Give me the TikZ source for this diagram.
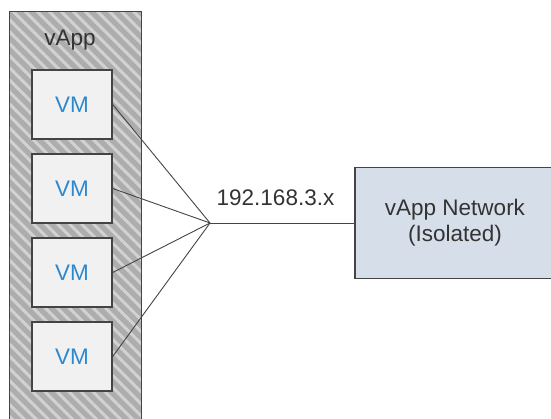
\documentclass[tikz,border=0pt]{standalone}
\usepackage{fontspec}
\setmainfont{Liberation Sans}
\usetikzlibrary{patterns.meta}

\definecolor{hatchbg}{HTML}{ADADAD}
\definecolor{hatchline}{HTML}{D2D2D2}
\definecolor{edgegray}{HTML}{444444}
\definecolor{vmfill}{HTML}{F1F1F1}
\definecolor{vmtext}{HTML}{2C88CF}
\definecolor{netfill}{HTML}{D5DEE9}
\definecolor{txt}{HTML}{333333}

\tikzset{
  txtfont/.style={font=\fontsize{22.5}{26}\selectfont, text=txt},
  container/.style={draw=edgegray, line width=1.4pt, inner sep=0pt,
    preaction={fill=hatchbg},
    pattern={Lines[angle=-45, distance=8.5pt, line width=3pt]},
    pattern color=hatchline},
  vmbox/.style={draw=edgegray, line width=1.4pt, fill=vmfill, inner sep=0pt,
    minimum width=80pt, minimum height=69pt,
    font=\fontsize{22.5}{26}\selectfont, text=vmtext},
  netbox/.style={draw=edgegray, line width=1.4pt, fill=netfill, inner sep=0pt,
    minimum width=200pt, minimum height=111pt, align=center, txtfont},
  link/.style={draw=edgegray, line width=0.9pt},
}

\begin{document}
\begin{tikzpicture}[x=1pt, y=-1pt]
  \useasboundingbox (0,0) rectangle (551,419);
  \clip (0,0) rectangle (551,419);

  % vApp container (runs past the lower edge)
  \node[container, minimum width=132pt, minimum height=440pt, anchor=north west]
    (vapp) at (8,10) {};
  \node[txtfont] (vapplabel) at (70,40) {vApp};

  % virtual machines
  \node[vmbox] (vm1) at (72,104.5) {VM};
  \node[vmbox] (vm2) at (72,188.5) {VM};
  \node[vmbox] (vm3) at (72,272.5) {VM};
  \node[vmbox] (vm4) at (72,356.5) {VM};

  % isolated network
  \node[netbox] (net) at (455,223) {vApp Network\\(Isolated)};

  % fan-in point of the network links
  \coordinate (hub) at (210,223);

  \foreach \v in {vm1,vm2,vm3,vm4}
    \draw[link] (\v.east) -- (hub);
  \draw[link] (hub) -- (net.west);

  \node[txtfont] (subnet) at (275.5,198) {192.168.3.x};
\end{tikzpicture}
\end{document}
